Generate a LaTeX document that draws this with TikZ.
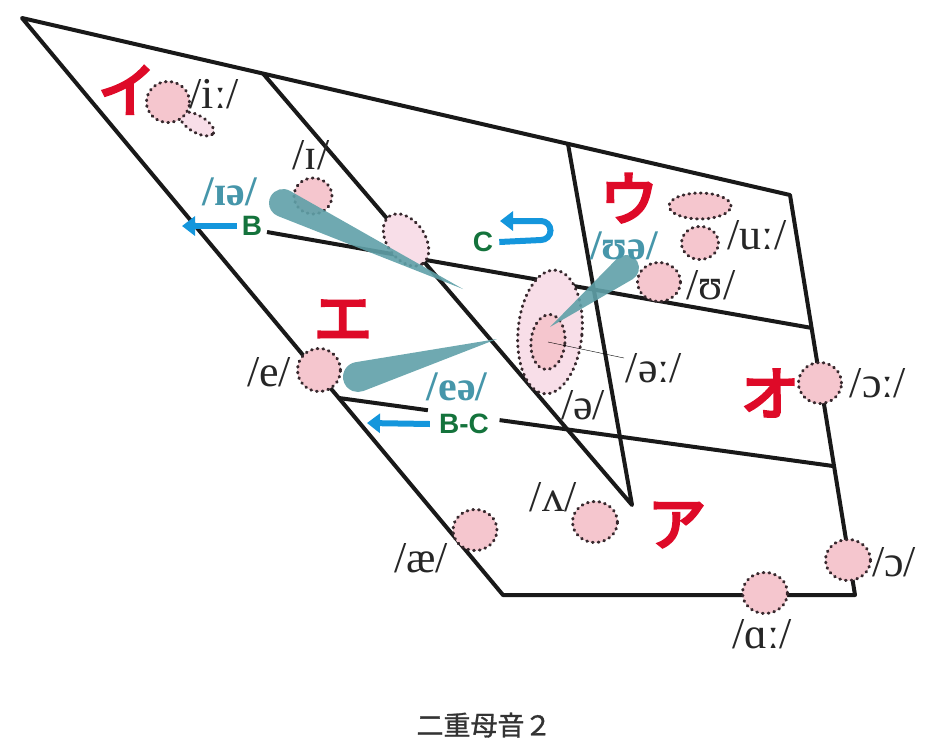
\documentclass[tikz,border=0pt]{standalone}
\usepackage{fontspec}
\setmainfont{Liberation Serif}
\setsansfont{Liberation Sans}
\newfontfamily\kanafont{Noto Sans CJK JP}[FakeBold=5]
\newfontfamily\capfont{Noto Sans CJK JP}[FakeBold=1]
\usetikzlibrary{arrows.meta,shapes.geometric,positioning,calc}

\definecolor{kanared}{RGB}{222,10,40}
\definecolor{vowelpink}{RGB}{245,198,206}
\definecolor{lightpink}{RGB}{248,222,232}
\definecolor{dotgray}{RGB}{55,40,45}
\definecolor{diphteal}{RGB}{95,160,168}
\definecolor{labelteal}{RGB}{70,150,170}
\definecolor{markgreen}{RGB}{20,115,60}
\definecolor{arrowblue}{RGB}{20,150,220}

\tikzset{
  chartline/.style={line width=4pt, line join=round, black!90},
  vowel/.style={ellipse, fill=vowelpink, draw=dotgray, line width=3pt,
    dash pattern=on 0.8pt off 5pt, line cap=round, inner sep=0pt},
  ipa/.style={font=\fontsize{44}{44}\selectfont, text=black!85, inner sep=0pt},
  diph/.style={font=\fontsize{42}{42}\selectfont\bfseries, text=labelteal, inner sep=0pt},
  kana/.style={font=\kanafont\fontsize{58}{58}\selectfont, text=kanared, inner sep=0pt},
  tagtext/.style={font=\sffamily\bfseries\fontsize{28}{28}\selectfont, text=markgreen, inner sep=0pt},
  movearrow/.style={arrowblue, line width=6pt, -{Triangle[length=13pt,width=19pt]}}
}

% teardrop: round end #1, radius #2 (pt), tip #3
\newcommand{\vdrop}[3]{%
  \fill[diphteal, opacity=.9] let \p1=(#1), \p2=(#3),
    \n1={atan2(\y2-\y1,\x2-\x1)}, \n2={veclen(\x2-\x1,\y2-\y1)}, \n3={acos(#2/\n2)}
    in (#3) -- ($(#1)+(\n1+\n3:#2pt)$)
    arc[start angle=\n1+\n3, end angle=\n1+360-\n3, radius=#2pt] -- cycle;}

\begin{document}
\begin{tikzpicture}[x=1pt, y=-1pt]
\useasboundingbox (0,0) rectangle (932,740);
% Chart corners
\coordinate (tl) at (22,18);
\coordinate (tm) at (263,73.5);
\coordinate (tq) at (568,144);
\coordinate (tr) at (790,195);
\coordinate (br) at (855,595);
\coordinate (bl) at (503,595);
\coordinate (apex) at (632,505);
\coordinate (midL) at (267,232);
\coordinate (midR) at (812,328);
\coordinate (lowL) at (339,398);
\coordinate (lowR) at (833,466);
% Outline and inner lines
\draw[chartline] (tl) -- (tr) -- (br) -- (bl) -- cycle;
\draw[chartline] (tm) -- (apex) -- (tq);
\draw[chartline] (midL) -- (midR);
\draw[chartline] (lowL) -- ($(lowL)!0.18!(lowR)$);
\draw[chartline] ($(lowL)!0.325!(lowR)$) -- (lowR);
% Light areas
\node[vowel, fill=lightpink, minimum width=38pt, minimum height=17pt, rotate=-30] (iitail) at (197,124) {};
\node[vowel, fill=lightpink, minimum width=58pt, minimum height=38pt, rotate=-55] (ihmid) at (406,240) {};
\node[vowel, fill=lightpink, minimum width=64pt, minimum height=124pt, rotate=-5] (schwaO) at (550,332) {};
\node[vowel, minimum width=34pt, minimum height=55pt, rotate=-5] (schwaI) at (548,342) {};
% Vowel spots
\foreach \vname/\px/\py/\w/\h in {ii/168/102/43/41, ih/313/196/38/36, uu/700/206/62/26,
    us/700/243/37/33, uh/659/282/43/39, ooL/820/383/43/41, ee/319/370/43/43,
    ae/475/530/44/41, vv/595/522/45/41, aa/765/593/45/41, oo/848/560/45/41}
  \node[vowel, minimum width=\w pt, minimum height=\h pt] (\vname) at (\px,\py) {};
% Diphthong glides
\coordinate (iaS) at (283,203);
\coordinate (iaT) at (463,289);
\coordinate (eaS) at (358,377);
\coordinate (eaT) at (497,339);
\coordinate (uaS) at (626,268);
\coordinate (uaT) at (550,327);
\vdrop{iaS}{14}{iaT}
\vdrop{eaS}{15}{eaT}
\vdrop{uaS}{13}{uaT}
% Labels
\node[ipa] (iilab) at (214,94) {/iː/};
\node[ipa] (ihlab) at (311,155) {/ɪ/};
\node[ipa] (uulab) at (757,235) {/uː/};
\node[ipa] (uhlab) at (711,285) {/ʊ/};
\node[ipa] (eelab) at (654,368) {/əː/};
\node[ipa] (schwalab) at (583,405) {/ə/};
\node[ipa] (oolLab) at (878,383) {/ɔː/};
\node[ipa] (elab) at (269,372) {/e/};
\node[ipa] (aelab) at (421,558) {/æ/};
\node[ipa] (vvlab) at (553,497) {/ʌ/};
\node[ipa] (aalab) at (762,634) {/ɑː/};
\node[ipa] (oolab) at (894,562) {/ɔ/};
\draw[thin] (schwaI.center) -- (624,358);
\node[diph] (ialab) at (230,192) {/ɪə/};
\node[diph] (ualab) at (624,246) {/ʊə/};
\node[diph] (ealab) at (457,387) {/eə/};
\node[kana] (kI) at (127,90) {イ};
\node[kana] (kU) at (629,198) {ウ};
\node[kana] (kE) at (343,320) {エ};
\node[kana] (kO) at (770,393) {オ};
\node[kana] (kA) at (677,525) {ア};
% Tongue shifts
\node[tagtext] (tagB) at (252,226) {B};
\node[tagtext] (tagBC) at (464,424) {B-C};
\node[tagtext] (tagC) at (483,242) {C};
\coordinate (bEnd) at (182,226);
\coordinate (bcEnd) at (367,423);
\coordinate (cEnd) at (500,221);
\draw[movearrow] ([xshift=-5pt]tagB.west) -- (bEnd);
\draw[movearrow] ([xshift=-9pt]tagBC.west) -- (bcEnd);
\draw[movearrow] ([xshift=6pt]tagC.east) -- (541,240)
  arc[start angle=-90, end angle=90, radius=9.5pt] -- (cEnd);
\node[font=\capfont\fontsize{27}{27}\selectfont, text=black!80] (caption) at (484,725) {二重母音２};
\end{tikzpicture}
\end{document}
